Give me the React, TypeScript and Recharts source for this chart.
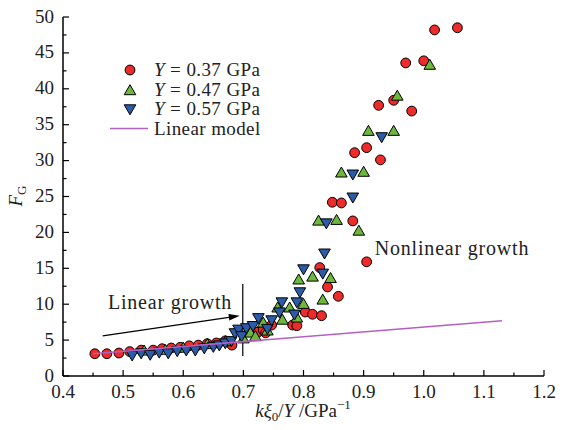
import React from 'react';
import { ScatterChart, Scatter, XAxis, YAxis, ReferenceLine, ReferenceDot, Legend } from 'recharts';

const FONT = '"Liberation Serif", "DejaVu Serif", serif';

// Y = 0.37 GPa
const redX = [0.453, 0.473, 0.493, 0.511, 0.53, 0.55, 0.565, 0.58, 0.595, 0.61, 0.625, 0.64, 0.655, 0.67, 0.681,
  0.724, 0.733, 0.737, 0.747, 0.782, 0.789, 0.803, 0.815, 0.83, 0.827, 0.84, 0.858, 0.882, 0.905, 0.848, 0.863,
  0.885, 0.905, 0.928, 0.925, 0.95, 0.98, 0.97, 1.0, 1.018, 1.056];
const redY = [3.1, 3.1, 3.2, 3.4, 3.6, 3.6, 3.8, 3.9, 4.0, 4.2, 4.3, 4.5, 4.6, 4.9, 4.3,
  6.1, 6.4, 6.0, 7.1, 7.1, 7.0, 8.9, 8.6, 8.4, 15.1, 12.4, 11.1, 21.6, 15.9, 24.2, 24.1,
  31.1, 31.8, 30.1, 37.7, 38.4, 36.9, 43.6, 43.9, 48.2, 48.5];

// Y = 0.47 GPa
const greenX = [0.535, 0.57, 0.6, 0.64, 0.67, 0.7, 0.712, 0.72, 0.733, 0.74, 0.757, 0.765, 0.777, 0.789, 0.8,
  0.792, 0.815, 0.832, 0.845, 0.825, 0.855, 0.892, 0.863, 0.9, 0.908, 0.95, 0.956, 1.01];
const greenY = [3.5, 3.6, 3.9, 4.4, 4.8, 5.2, 6.0, 5.5, 7.4, 6.3, 9.5, 7.8, 9.5, 8.1, 10.0,
  13.4, 13.8, 10.6, 13.6, 21.6, 21.7, 20.2, 28.3, 28.4, 34.1, 34.1, 39.0, 43.3];

// Y = 0.57 GPa
const blueX = [0.515, 0.53, 0.545, 0.56, 0.575, 0.59, 0.605, 0.62, 0.635, 0.65, 0.66, 0.67, 0.68,
  0.686, 0.692, 0.697, 0.705, 0.716, 0.725, 0.74, 0.747, 0.76, 0.764, 0.785, 0.789, 0.794, 0.8,
  0.832, 0.835, 0.838, 0.882, 0.882, 0.93];
const blueY = [2.9, 3.2, 3.0, 3.3, 3.2, 3.5, 3.6, 3.6, 3.9, 4.1, 4.3, 4.6, 4.9,
  6.0, 6.5, 5.6, 6.7, 7.0, 8.1, 6.6, 7.8, 8.9, 10.3, 8.6, 10.3, 11.7, 14.9,
  14.3, 17.1, 21.3, 24.9, 28.1, 33.3];

// Linear model endpoints
const modelX = [0.45, 1.13];
const modelY = [3.1, 7.7];

const xTicks = [0.4, 0.45, 0.5, 0.55, 0.6, 0.65, 0.7, 0.75, 0.8, 0.85, 0.9, 0.95, 1.0, 1.05, 1.1, 1.15, 1.2];
const yTicks = [0, 2.5, 5, 7.5, 10, 12.5, 15, 17.5, 20, 22.5, 25, 27.5, 30, 32.5, 35, 37.5, 40, 42.5, 45, 47.5, 50];

const RED = '#ee2b2b';
const GREEN = '#6cb83a';
const BLUE = '#2a5ca8';
const PURPLE = '#b45fc2';

const zip = (xs: number[], ys: number[]) => xs.map((x, i) => ({ x, y: ys[i] }));
const redData = zip(redX, redY);
const greenData = zip(greenX, greenY);
const blueData = zip(blueX, blueY);
const modelData = zip(modelX, modelY);

const isMajorX = (v: number) => Math.abs(v * 10 - Math.round(v * 10)) < 1e-6;
const isMajorY = (v: number) => Math.abs(v / 5 - Math.round(v / 5)) < 1e-6;

const Circle = (p: any) => <circle cx={p.cx} cy={p.cy} r={4.9} fill={RED} stroke="#000" strokeWidth={1} />;
const TriUp = (p: any) => (
  <polygon points={`${p.cx},${p.cy - 5.8} ${p.cx - 5.8},${p.cy + 4.2} ${p.cx + 5.8},${p.cy + 4.2}`} fill={GREEN} stroke="#000" strokeWidth={1} />
);
const TriDown = (p: any) => (
  <polygon points={`${p.cx},${p.cy + 5.8} ${p.cx - 5.8},${p.cy - 4.2} ${p.cx + 5.8},${p.cy - 4.2}`} fill={BLUE} stroke="#000" strokeWidth={1} />
);
const NoMark = () => <g />;

const BottomTick = ({ x, y, payload }: any) => {
  const major = isMajorX(payload.value);
  return (
    <g>
      <line x1={x} y1={y} x2={x} y2={y - (major ? 6 : 3.5)} stroke="#000" strokeWidth={1.2} />
      {major && (
        <text x={x} y={y + 22} textAnchor="middle" fontSize={19} fontFamily={FONT} fill="#222">
          {payload.value.toFixed(1)}
        </text>
      )}
    </g>
  );
};
const TopTick = ({ x, y, payload }: any) => (
  <line x1={x} y1={y} x2={x} y2={y + (isMajorX(payload.value) ? 6 : 3.5)} stroke="#000" strokeWidth={1.2} />
);
const LeftTick = ({ x, y, payload }: any) => {
  const major = isMajorY(payload.value);
  return (
    <g>
      <line x1={x} y1={y} x2={x + (major ? 6 : 3.5)} y2={y} stroke="#000" strokeWidth={1.2} />
      {major && (
        <text x={x - 9} y={y + 5.5} textAnchor="end" fontSize={19} fontFamily={FONT} fill="#222">
          {payload.value}
        </text>
      )}
    </g>
  );
};
const RightTick = ({ x, y, payload }: any) => (
  <line x1={x} y1={y} x2={x - (isMajorY(payload.value) ? 6 : 3.5)} y2={y} stroke="#000" strokeWidth={1.2} />
);

const ArrowLine = (p: any) => {
  const { x1, y1, x2, y2 } = p;
  const a = Math.atan2(y2 - y1, x2 - x1);
  const L = 11;
  const w = 3.2;
  const bx = x2 - L * Math.cos(a);
  const by = y2 - L * Math.sin(a);
  const px = -Math.sin(a) * w;
  const py = Math.cos(a) * w;
  return (
    <g>
      <line x1={x1} y1={y1} x2={bx} y2={by} stroke="#000" strokeWidth={1.3} />
      <polygon points={`${x2},${y2} ${bx + px},${by + py} ${bx - px},${by - py}`} fill="#000" />
    </g>
  );
};

const legendItems = [
  { kind: 'circle', value: '0.37' },
  { kind: 'up', value: '0.47' },
  { kind: 'down', value: '0.57' },
  { kind: 'line', value: '' },
];

const LegendBox = () => (
  <svg width={200} height={90}>
    {legendItems.map((it, i) => {
      const cy = 10 + i * 19.5;
      return (
        <g key={i}>
          {it.kind === 'circle' && <Circle cx={29} cy={cy} />}
          {it.kind === 'up' && <TriUp cx={29} cy={cy + 1} />}
          {it.kind === 'down' && <TriDown cx={29} cy={cy} />}
          {it.kind === 'line' && <line x1={9} y1={cy} x2={47} y2={cy} stroke={PURPLE} strokeWidth={1.5} />}
          <text x={53} y={cy + 6} fontSize={19} fontFamily={FONT} fill="#222" letterSpacing={0.4}>
            {it.kind === 'line' ? (
              'Linear model'
            ) : (
              <>
                <tspan fontStyle="italic">Y</tspan>
                <tspan>{` = ${it.value} GPa`}</tspan>
              </>
            )}
          </text>
        </g>
      );
    })}
  </svg>
);

const XLabel = () => (
  <text x={303} y={417} textAnchor="middle" fontSize={19} fontFamily={FONT} fill="#222">
    <tspan fontStyle="italic">kξ</tspan>
    <tspan fontSize={13} dy={4}>0</tspan>
    <tspan dy={-4}>/</tspan>
    <tspan fontStyle="italic">Y</tspan>
    <tspan> /GPa</tspan>
    <tspan fontSize={13} dy={-8}>−1</tspan>
  </text>
);

const YLabel = () => (
  <text x={22} y={196} transform="rotate(-90, 22, 196)" textAnchor="middle" fontSize={19} fontFamily={FONT} fill="#222">
    <tspan fontStyle="italic">F</tspan>
    <tspan fontSize={13} dy={4}>G</tspan>
  </text>
);

export default function App() {
  return (
    <div style={{ position: 'absolute', left: 0, top: 0, width: 575, height: 430, background: '#fff' }}>
      <ScatterChart width={575} height={430} margin={{ top: 17, right: 31, bottom: 0, left: 0 }}>
        <XAxis
          type="number"
          dataKey="x"
          domain={[0.4, 1.2]}
          ticks={xTicks}
          interval={0}
          height={54}
          tickSize={0}
          tickMargin={0}
          tickLine={false}
          tick={BottomTick}
          axisLine={{ stroke: '#000', strokeWidth: 1.5 }}
          allowDataOverflow
          label={{ content: XLabel }}
        />
        <XAxis
          xAxisId="t"
          orientation="top"
          type="number"
          dataKey="x"
          domain={[0.4, 1.2]}
          ticks={xTicks}
          interval={0}
          height={0}
          tickSize={0}
          tickMargin={0}
          tickLine={false}
          tick={TopTick}
          axisLine={{ stroke: '#000', strokeWidth: 1.5 }}
          allowDataOverflow
        />
        <YAxis
          type="number"
          dataKey="y"
          domain={[0, 50]}
          ticks={yTicks}
          interval={0}
          width={63}
          tickSize={0}
          tickMargin={0}
          tickLine={false}
          tick={LeftTick}
          axisLine={{ stroke: '#000', strokeWidth: 1.5 }}
          allowDataOverflow
          label={{ content: YLabel }}
        />
        <YAxis
          yAxisId="r"
          orientation="right"
          type="number"
          dataKey="y"
          domain={[0, 50]}
          ticks={yTicks}
          interval={0}
          width={0}
          tickSize={0}
          tickMargin={0}
          tickLine={false}
          tick={RightTick}
          axisLine={{ stroke: '#000', strokeWidth: 1.5 }}
          allowDataOverflow
        />
        <ReferenceLine
          segment={[{ x: 0.699, y: 2.8 }, { x: 0.699, y: 12.8 }]}
          stroke="#000"
          strokeWidth={1.2}
        />
        <ReferenceLine
          segment={[{ x: 0.466, y: 5.6 }, { x: 0.694, y: 8.4 }]}
          shape={ArrowLine}
        />
        <ReferenceDot
          x={0.578}
          y={10.3}
          r={0}
          fill="none"
          stroke="none"
          label={{ value: 'Linear growth', position: 'center', fontSize: 20, fontFamily: FONT, fill: '#222', letterSpacing: 0.8 }}
        />
        <ReferenceDot
          x={1.047}
          y={17.8}
          r={0}
          fill="none"
          stroke="none"
          label={{ value: 'Nonlinear growth', position: 'center', fontSize: 20, fontFamily: FONT, fill: '#222', letterSpacing: 0.8 }}
        />
        <Scatter name="Y = 0.37 GPa" data={redData} shape={Circle} isAnimationActive={false} />
        <Scatter name="Y = 0.47 GPa" data={greenData} shape={TriUp} isAnimationActive={false} />
        <Scatter name="Y = 0.57 GPa" data={blueData} shape={TriDown} isAnimationActive={false} />
        <Scatter
          name="Linear model"
          data={modelData}
          shape={NoMark}
          line={{ stroke: PURPLE, strokeWidth: 1.6 }}
          isAnimationActive={false}
        />
        <Legend
          layout="vertical"
          align="center"
          verticalAlign="middle"
          content={LegendBox}
          wrapperStyle={{ position: 'absolute', left: 101, top: 60, width: 200, height: 90 }}
        />
      </ScatterChart>
    </div>
  );
}
